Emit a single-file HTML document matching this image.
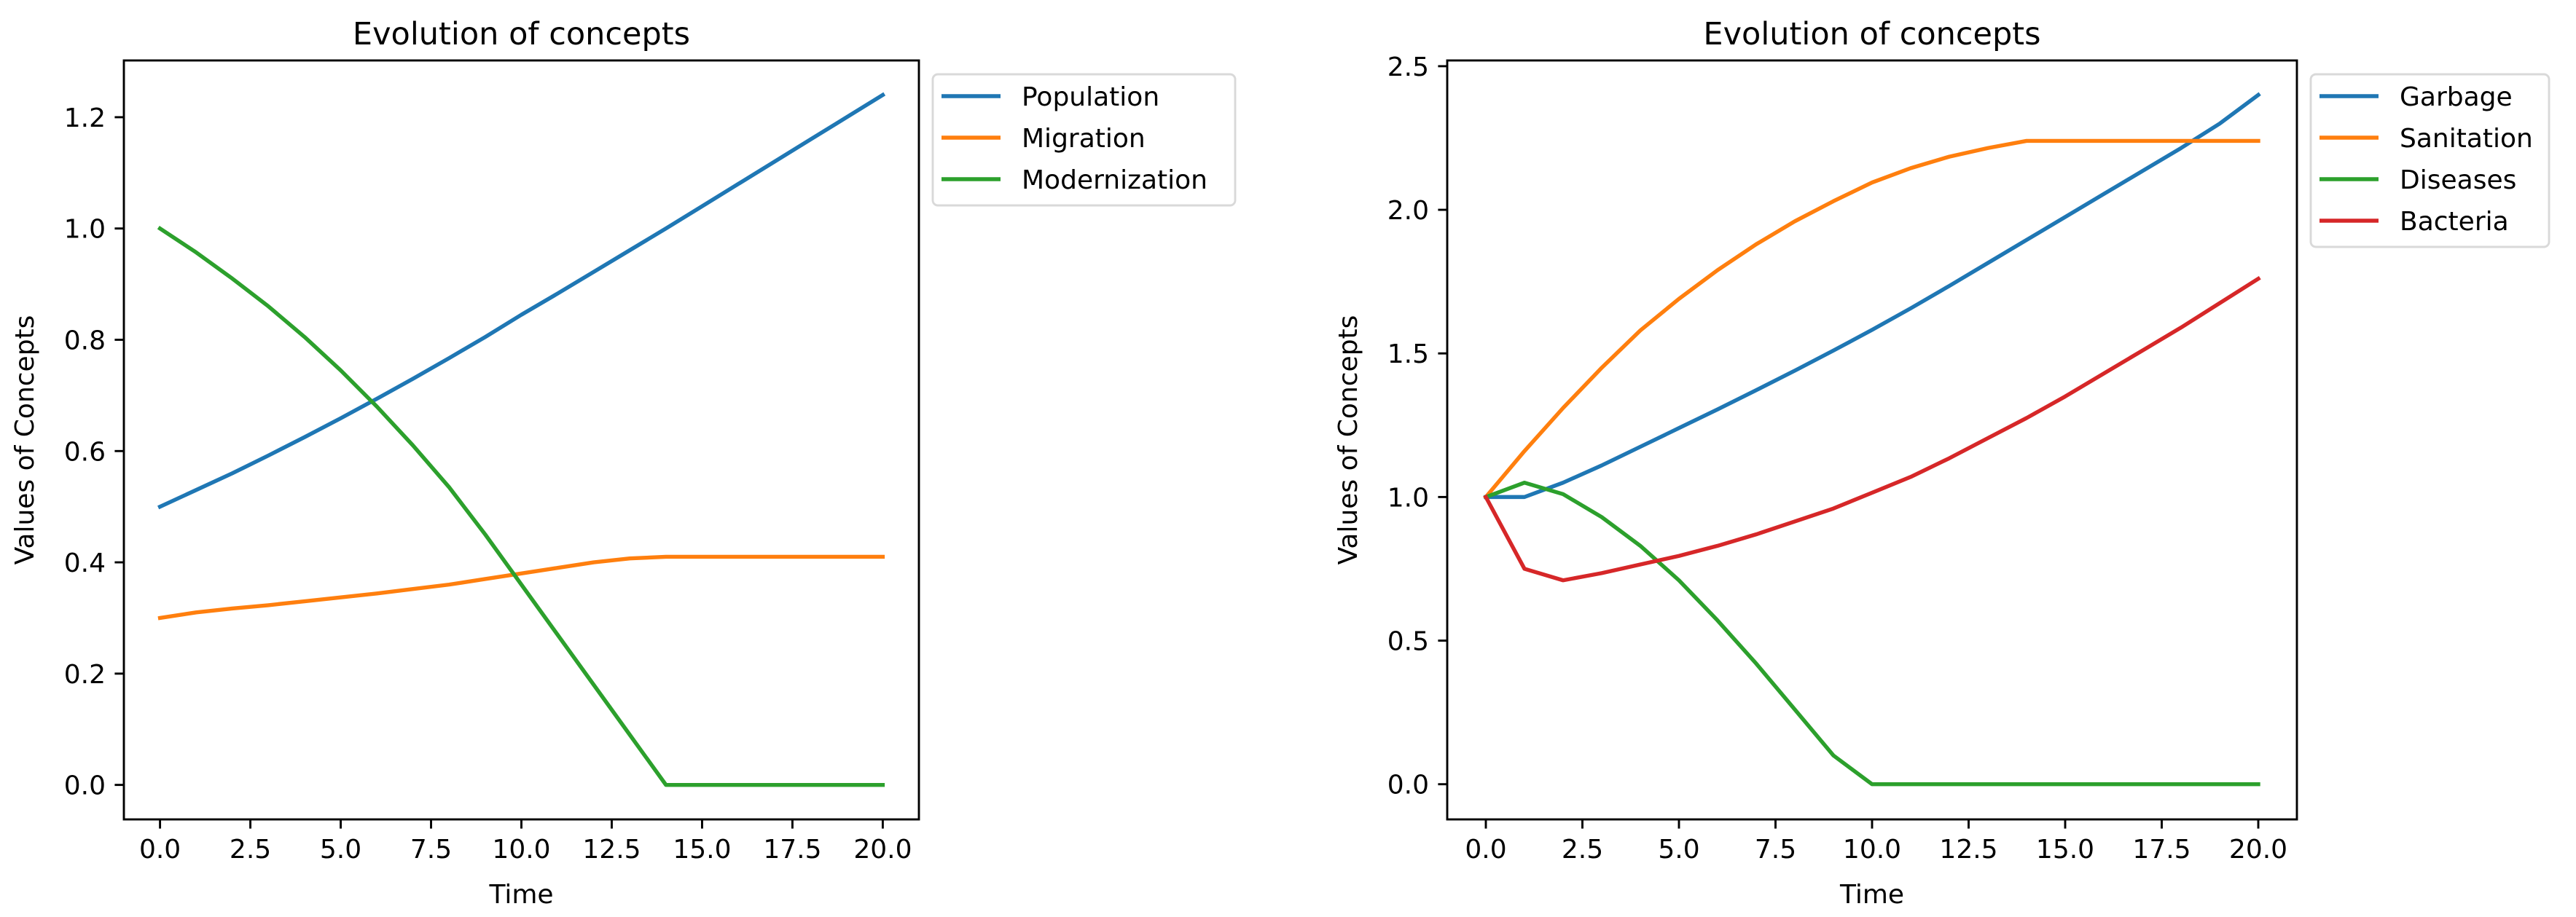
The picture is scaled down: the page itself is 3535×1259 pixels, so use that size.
<!DOCTYPE html>
<html><head><meta charset="utf-8">
<style>
html,body{margin:0;padding:0;background:#fff;}
svg{display:block;font-family:"DejaVu Sans","Liberation Sans",sans-serif;}
</style></head>
<body>
<svg id="fig" width="3535" height="1259" viewBox="0 0 3535 1259"></svg>
<script>
const times = [0,1,2,3,4,5,6,7,8,9,10,11,12,13,14,15,16,17,18,19,20];
const populationValues = [0.5,0.53,0.56,0.592,0.625,0.659,0.694,0.73,0.767,0.805,0.845,0.883,0.922,0.961,1.0,1.04,1.08,1.12,1.16,1.2,1.24];
const migrationValues = [0.3,0.31,0.317,0.323,0.33,0.337,0.344,0.352,0.36,0.37,0.38,0.39,0.4,0.407,0.41,0.41,0.41,0.41,0.41,0.41,0.41];
const modernizationValues = [1.0,0.957,0.91,0.86,0.805,0.745,0.68,0.61,0.535,0.45,0.36,0.27,0.18,0.09,0,0,0,0,0,0,0];
const garbageValues = [1.0,1.0,1.05,1.11,1.175,1.24,1.305,1.372,1.44,1.51,1.582,1.657,1.735,1.815,1.895,1.975,2.055,2.135,2.215,2.3,2.4];
const sanitationValues = [1.0,1.16,1.31,1.45,1.58,1.69,1.79,1.88,1.96,2.03,2.095,2.145,2.185,2.215,2.24,2.24,2.24,2.24,2.24,2.24,2.24];
const diseasesValues = [1.0,1.05,1.01,0.93,0.83,0.71,0.57,0.42,0.26,0.1,0,0,0,0,0,0,0,0,0,0,0];
const bacteriaValues = [1.0,0.75,0.71,0.735,0.765,0.795,0.83,0.87,0.915,0.96,1.015,1.07,1.135,1.205,1.275,1.35,1.43,1.51,1.59,1.675,1.76];
const xTicks = [0,2.5,5,7.5,10,12.5,15,17.5,20];
const xTickLabels = ["0.0","2.5","5.0","7.5","10.0","12.5","15.0","17.5","20.0"];
const leftYTicks = [0,0.2,0.4,0.6,0.8,1.0,1.2];
const leftYTickLabels = ["0.0","0.2","0.4","0.6","0.8","1.0","1.2"];
const rightYTicks = [0,0.5,1.0,1.5,2.0,2.5];
const rightYTickLabels = ["0.0","0.5","1.0","1.5","2.0","2.5"];
const leftNames = ["Population","Migration","Modernization"];
const rightNames = ["Garbage","Sanitation","Diseases","Bacteria"];

const NS="http://www.w3.org/2000/svg";
const svg=document.getElementById('fig');
const colors=["#1f77b4","#ff7f0e","#2ca02c","#d62728"];
function el(tag,attrs,parent){const e=document.createElementNS(NS,tag);for(const k in attrs)e.setAttribute(k,attrs[k]);(parent||svg).appendChild(e);return e;}
function slug(s){return s.toLowerCase().replace(/[^a-z0-9]+/g,'-');}

function drawPanel(p){
  const g=el('g',{});
  
  
  const xMin=-1,xMax=21;
  const X=v=>p.x0+(v-xMin)/(xMax-xMin)*(p.x1-p.x0);
  const Y=v=>p.y1-(v-p.yMin)/(p.yMax-p.yMin)*(p.y1-p.y0);
  p.series.forEach((vals,i)=>{
    const d=times.map((t,j)=>(j?'L':'M')+X(t).toFixed(2)+' '+Y(vals[j]).toFixed(2)).join(' ');
    const path=el('path',{d:d,fill:'none',stroke:colors[i],'stroke-width':5.4,'stroke-linejoin':'round','stroke-linecap':'square'},g);
    
    
  });
  const fr=el('rect',{x:p.x0,y:p.y0,width:p.x1-p.x0,height:p.y1-p.y0,fill:'none',stroke:'#000','stroke-width':2.9},g);
  
  
  xTicks.forEach((t,i)=>{
    const x=X(t);
    const tk=el('line',{x1:x,y1:p.y1,x2:x,y2:p.y1+12.6,stroke:'#000','stroke-width':2.9},g);
    
    
    const tx=el('text',{x:x,y:p.y1+53,'font-size':36,'text-anchor':'middle',fill:'#000'},g);
    tx.textContent=xTickLabels[i];
    
    
  });
  p.yTicks.forEach((v,i)=>{
    const y=Y(v);
    const tk=el('line',{x1:p.x0-12.6,y1:y,x2:p.x0,y2:y,stroke:'#000','stroke-width':2.9},g);
    
    
    const tx=el('text',{x:p.x0-25,y:y+13,'font-size':36,'text-anchor':'end',fill:'#000'},g);
    tx.textContent=p.yLabels[i];
    
    
  });
  const ti=el('text',{x:(p.x0+p.x1)/2,y:p.y0-22,'font-size':43,'text-anchor':'middle',fill:'#000'},g);
  ti.textContent='Evolution of concepts';
  
  
  const xl=el('text',{x:(p.x0+p.x1)/2,y:1240,'font-size':36,'text-anchor':'middle',fill:'#000'},g);
  xl.textContent='Time';
  
  
  const yc=(p.y0+p.y1)/2;
  const yl=el('text',{x:p.ylx,y:yc,'font-size':36,'text-anchor':'middle',fill:'#000',transform:'rotate(-90 '+p.ylx+' '+yc+')'},g);
  yl.textContent='Values of Concepts';
  
  
  const lg=el('g',{},g);
  
  
  el('rect',{x:p.lx,y:102,width:p.lw,height:p.names.length*57+9,rx:7,fill:'#fff','fill-opacity':0.8,stroke:'#d9d9d9','stroke-width':2.9},lg);
  p.names.forEach((n,i)=>{
    const cy=132+i*57;
    const en=el('g',{},lg);
    
    
    el('line',{x1:p.lx+12,y1:cy,x2:p.lx+93,y2:cy,stroke:colors[i],'stroke-width':5.4},en);
    const t=el('text',{x:p.lx+122,y:cy+13,'font-size':36,fill:'#000'},en);
    t.textContent=n;
  });
}

drawPanel({id:'left',x0:170,x1:1261,y0:83,y1:1125,yMin:-0.062,yMax:1.302,
  series:[populationValues,migrationValues,modernizationValues],names:leftNames,
  yTicks:leftYTicks,yLabels:leftYTickLabels,ylx:46,lx:1280,lw:415});
drawPanel({id:'right',x0:1986,x1:3152,y0:83,y1:1125,yMin:-0.1225,yMax:2.52,
  series:[garbageValues,sanitationValues,diseasesValues,bacteriaValues],names:rightNames,
  yTicks:rightYTicks,yLabels:rightYTickLabels,ylx:1862,lx:3171,lw:327});
</script>
</body></html>
